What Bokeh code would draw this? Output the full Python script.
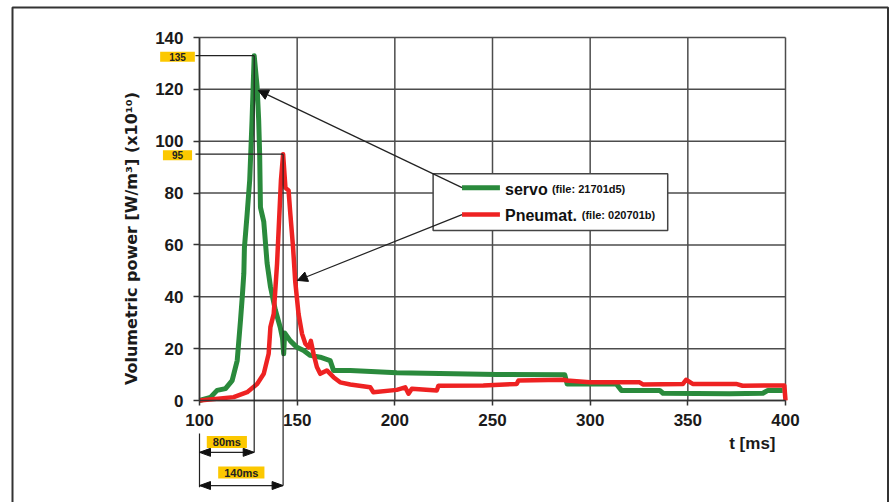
import math
from bokeh.plotting import figure
from bokeh.models import Range1d, Label, Arrow, NormalHead, BoxAnnotation, PolyAnnotation, FixedTicker
from bokeh.embed import file_html
from bokeh.resources import INLINE

# ---------------- data ----------------
servo_t = [100, 105.6, 109, 113.3, 116.7, 119.3, 121, 121.9, 122.7, 123, 124.4, 125.7, 126.9, 128,
           129.5, 130.3, 130.8, 131.2, 132.9, 134.6, 136.3, 138.8, 141.4, 142.5, 143.1, 143.6, 146.5,
           149.9, 153.3, 156.7, 161.8, 166.9, 168.6, 177.2, 201, 252, 287, 288.2, 313.4, 316, 335.6,
           337.3, 371.3, 388.4, 391, 398.6]
servo_v = [0, 1.2, 3.9, 4.6, 7.7, 15.4, 31, 40, 49, 59, 72, 85, 108, 133,
           121, 108, 95, 74.5, 69, 53, 44, 35, 28, 24, 18, 26, 23,
           20.5, 19.3, 17.4, 16.7, 15.4, 11.6, 11.6, 10.7, 10, 9.9, 6.4, 6.4, 3.9, 3.9,
           2.8, 2.6, 2.8, 3.9, 3.9]

pneu_t = [100, 117.5, 124.4, 129.5, 132.9, 135.4, 136.3, 138, 139.7, 140.9, 141.7, 142.8, 144, 145.6,
          146.5, 147.9, 149, 150.7, 152.5, 154.2, 155.9, 157, 158.4, 160.1, 161.8, 165.2, 168.6, 172,
          177.2, 187.4, 189, 201, 205.3, 207, 208.7, 221.5, 222.3, 245.3, 262.4, 263.3, 286.2, 288,
          299.8, 325.3, 327, 347.5, 349.1, 352.5, 374.7, 378, 399.4, 400]
pneu_v = [0, 1.3, 3.2, 6.4, 10.3, 18, 28.3, 33.4, 52.7, 72, 85, 95, 82, 81,
          72, 59, 46, 33.4, 25.7, 21.9, 20.5, 23, 18, 12.9, 10.3, 11.6, 9, 7,
          6.2, 5.1, 3.2, 4.1, 5.1, 2.6, 4.5, 3.9, 5.7, 5.8, 6.4, 7.7, 8, 7.7,
          7, 7, 6.2, 6.4, 8, 6.4, 6.4, 5.7, 5.8, 0]

x_ticks = [100, 150, 200, 250, 300, 350, 400]
y_ticks = [0, 20, 40, 60, 80, 100, 120, 140]
series_names = ["servo", "Pneumat."]
series_files = ["(file: 21701d5)", "(file: 020701b)"]
peak_labels = ["135", "95"]
time_labels = ["80ms", "140ms"]
x_title = "t [ms]"
y_title = "Volumetric power [W/m\u00b3] (x10\u00b9\u2070)"

GREEN = "#2a8a3c"
RED = "#ee2222"
GRID = "#4d4d4d"
INK = "#222222"
YELLOW = "#fcc800"
ARIAL = "Liberation Sans"

# layout model: plot area 586 x 363 px placed at (199, 37) inside a 889 x 502 canvas
DX = 300 / 586.0
DY = 140 / 363.0
X0, X1 = x_ticks[0], x_ticks[-1]
Y0, Y1 = y_ticks[0], y_ticks[-1]

p = figure(width=889, height=502, output_backend="svg", toolbar_location=None,
           x_range=Range1d(X0 - 199 * DX, X1 + 104 * DX),
           y_range=Range1d(Y0 - 102 * DY, Y1 + 37 * DY),
           min_border_left=0, min_border_right=0, min_border_top=0, min_border_bottom=0)
p.background_fill_color = "white"
p.border_fill_color = "white"
p.outline_line_color = None
p.xgrid.visible = False
p.ygrid.visible = False

p.xaxis.fixed_location = Y0
p.yaxis.fixed_location = X0
p.xaxis.bounds = (X0, X1)
p.yaxis.bounds = (Y0, Y1)
for ax, ticks in ((p.xaxis, x_ticks), (p.yaxis, y_ticks)):
    ax.ticker = FixedTicker(ticks=ticks)
    ax.axis_line_color = "#333333"
    ax.axis_line_width = 1.5
    ax.major_tick_line_color = "#333333"
    ax.major_tick_line_width = 1.5
    ax.major_tick_in = 0
    ax.minor_tick_line_color = None
    ax.major_label_text_font = ARIAL
    ax.major_label_text_font_style = "bold"
    ax.major_label_text_font_size = "17px"
    ax.major_label_text_color = "#1a1a1a"
p.xaxis.major_tick_out = 5
p.yaxis.major_tick_out = 6
p.xaxis.major_label_standoff = 8
p.yaxis.major_label_standoff = 10

# grid lines from the tick lists
p.segment(x0=x_ticks, y0=[Y0] * len(x_ticks), x1=x_ticks, y1=[Y1] * len(x_ticks),
          line_color=GRID, line_width=1.5, level="underlay")
p.segment(x0=[X0] * len(y_ticks), y0=y_ticks, x1=[X1] * len(y_ticks), y1=y_ticks,
          line_color=GRID, line_width=1.5, level="underlay")

# curves
p.line(servo_t, servo_v, line_color=GREEN, line_width=5, line_join="round")
p.line(pneu_t, pneu_v, line_color=RED, line_width=4.5, line_join="round")


def seg(x0, y0, x1, y1, color=INK, width=1.2):
    p.add_layout(PolyAnnotation(xs=[x0, x1], ys=[y0, y1], fill_alpha=0, line_alpha=1,
                                line_color=color, line_width=width))


def head(xtip, y, direction):
    L, W = 11, 4
    xb = xtip - direction * L * DX
    p.add_layout(PolyAnnotation(xs=[xtip, xb, xb], ys=[y, y + W * DY, y - W * DY],
                                fill_color="#111111", fill_alpha=1, line_color="#111111",
                                line_alpha=1, line_width=1))


# outer frame
bx0, bx1 = X0 - 187 * DX, X1 + 102.5 * DX
by0, by1 = Y0 - 110 * DY, Y1 + 30 * DY
p.add_layout(PolyAnnotation(xs=[bx0, bx0, bx1, bx1], ys=[by0, by1, by1, by0], fill_alpha=0,
                            line_alpha=1, line_color="#333333", line_width=2))

# axis titles
p.add_layout(Label(x=X0, y=62.5, x_offset=-68, text=y_title, angle=math.pi / 2,
                   text_align="center", text_baseline="middle",
                   text_font="DejaVu Sans", text_font_style="bold", text_font_size="16px",
                   text_color="#1a1a1a"))
p.add_layout(Label(x=X1, y=Y0, x_offset=-10, y_offset=-43, text=x_title,
                   text_align="right", text_baseline="middle",
                   text_font=ARIAL, text_font_style="bold", text_font_size="17px",
                   text_color="#1a1a1a"))

# peak guides
i_s = servo_v.index(max(servo_v))
i_p = pneu_v.index(max(pneu_v))
peaks = [(servo_t[i_s], servo_v[i_s], -20.0), (pneu_t[i_p], pneu_v[i_p], -32.8)]
for (pt, pv, ybot), lab in zip(peaks, peak_labels):
    seg(X0 - 4 * DX, pv, pt, pv)
    seg(pt, pv, pt, ybot)
    p.add_layout(Label(x=X0, y=pv, x_offset=-22, y_offset=-1, text=lab, text_align="center",
                       text_baseline="middle", text_font=ARIAL, text_font_style="bold",
                       text_font_size="10px", text_color=INK,
                       background_fill_color=YELLOW, padding=(9, 9, 1, 1)))

# left vertical guide below the axis + dimension arrows
seg(X0, -12.7, X0, -33.5)
for (pt, pv, ybot), lab, lab_y in zip(peaks, time_labels, [-16.0, -27.8]):
    seg(X0, ybot, pt, ybot)
    head(X0, ybot, -1)
    head(pt, ybot, 1)
    p.add_layout(Label(x=(X0 + pt) / 2, y=lab_y, text=lab, text_align="center",
                       text_baseline="middle", text_font=ARIAL, text_font_style="bold",
                       text_font_size="11px", text_color=INK,
                       background_fill_color=YELLOW, padding=(6, 6, 0, 0)))

# legend box
lx0, lx1, ly0, ly1 = 219.6, 339.7, 65.6, 87.5
p.add_layout(BoxAnnotation(left=lx0, right=lx1, bottom=ly0, top=ly1, fill_color="white",
                           fill_alpha=1, line_color="#444444", line_alpha=1, line_width=1.5))
rows = [(82.1, 81.4, GREEN, 5, (130.1, 119.6), 280.4),
        (71.7, 71.4, RED, 4.5, (150.1, 46.3), 295.7)]
for (sy, ty, col, lw, tip, fx), name, fname in zip(rows, series_names, series_files):
    seg(234.4, sy, 253.8, sy, color=col, width=lw)
    p.add_layout(Label(x=256.4, y=ty, text=name, text_baseline="middle", text_font=ARIAL,
                       text_font_style="bold", text_font_size="16px", text_color="#111111"))
    p.add_layout(Label(x=fx, y=ty, text=fname, text_baseline="middle", text_font=ARIAL,
                       text_font_style="bold", text_font_size="11px", text_color="#111111"))

# leader arrows last
for (sy, ty, col, lw, tip, fx) in rows:
    p.add_layout(Arrow(end=NormalHead(size=10, fill_color="#111111", line_color="#111111"),
                       x_start=234.4, y_start=sy, x_end=tip[0], y_end=tip[1],
                       line_color=INK, line_width=1.2))

open("out.html", "w").write(file_html(p, INLINE))
